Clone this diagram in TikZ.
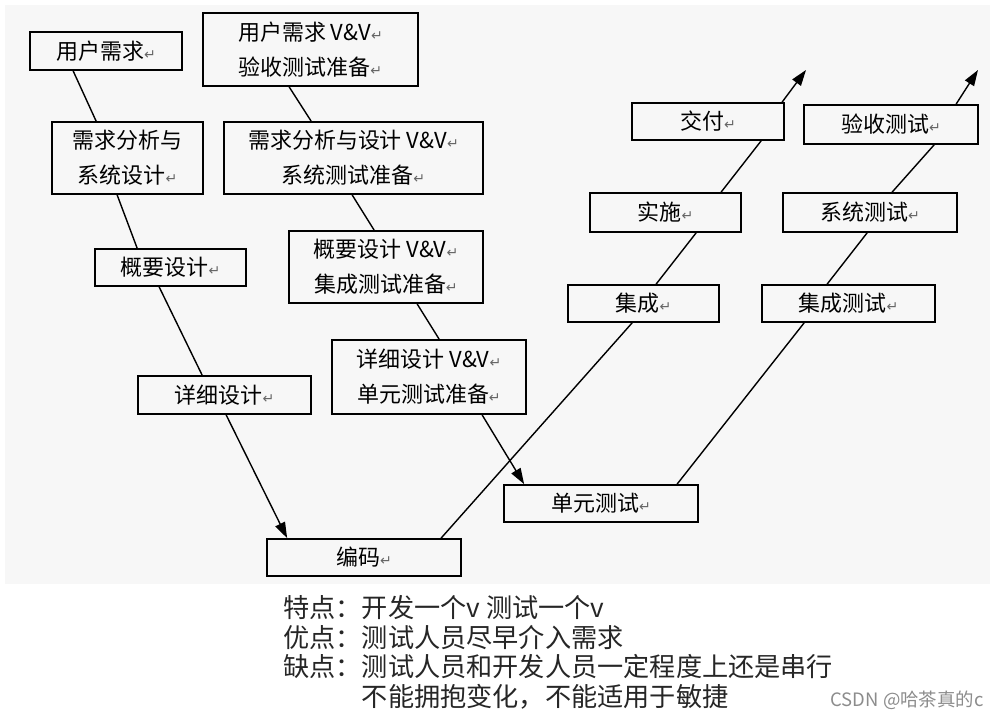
\documentclass[tikz,border=0pt]{standalone}
\usepackage{fontspec}
\setmainfont{Noto Sans CJK SC}
\newfontfamily\retfont{DejaVu Sans}
\usetikzlibrary{arrows.meta}
\definecolor{panel}{HTML}{F7F7F7}
\newcommand{\ret}{{\retfont\fontsize{8}{8}\selectfont\color{black!60}↵}}

\begin{document}
\begin{tikzpicture}[x=0.02cm, y=-0.02cm,
    box/.style={draw, line width=1pt, inner sep=0pt, align=center,
                font=\fontsize{12.5}{20}\selectfont},
    link/.style={line width=0.8pt},
    tip/.style={link, -{Triangle[length=9pt,width=6pt]}}]
  \useasboundingbox (0,0) rectangle (998,719);
  \fill[panel] (5,5) rectangle (990,584);

  % development side
  \node (yhxq) at (106,51)    [box, minimum width=3.04cm, minimum height=0.76cm] {用户需求\ret};
  \node (xqfx) at (127.5,158) [box, minimum width=3.02cm, minimum height=1.44cm] {需求分析与\\系统设计\ret};
  \node (gysj) at (170.5,267.5) [box, minimum width=3.02cm, minimum height=0.74cm] {概要设计\ret};
  \node (xxsj) at (224.5,395) [box, minimum width=3.46cm, minimum height=0.76cm] {详细设计\ret};
  \node (bm)   at (364,557.5) [box, minimum width=3.88cm, minimum height=0.74cm] {编码\ret};

  % V&V preparation
  \node (vv1) at (310.5,49.5) [box, minimum width=4.30cm, minimum height=1.46cm] {用户需求 V\&V\ret\\验收测试准备\ret};
  \node (vv2) at (353.5,158)  [box, minimum width=5.18cm, minimum height=1.44cm] {需求分析与设计 V\&V\ret\\系统测试准备\ret};
  \node (vv3) at (386,267)    [box, minimum width=3.88cm, minimum height=1.44cm] {概要设计 V\&V\ret\\集成测试准备\ret};
  \node (vv4) at (429,377)    [box, minimum width=3.88cm, minimum height=1.48cm] {详细设计 V\&V\ret\\单元测试准备\ret};

  % delivery side
  \node (jc) at (643.5,303.5) [box, minimum width=3.02cm, minimum height=0.74cm] {集成\ret};
  \node (ss) at (665.5,212.5) [box, minimum width=3.02cm, minimum height=0.78cm] {实施\ret};
  \node (jf) at (708,121.5)   [box, minimum width=3.04cm, minimum height=0.74cm] {交付\ret};

  % testing side
  \node (dycs) at (601,503.5)   [box, minimum width=3.88cm, minimum height=0.74cm] {单元测试\ret};
  \node (jccs) at (848.5,303.5) [box, minimum width=3.46cm, minimum height=0.74cm] {集成测试\ret};
  \node (xtcs) at (870,212.5)   [box, minimum width=3.48cm, minimum height=0.78cm] {系统测试\ret};
  \node (yscs) at (891,124.5)   [box, minimum width=3.48cm, minimum height=0.78cm] {验收测试\ret};

  \coordinate (jfend) at (806,70);
  \coordinate (ysend) at (978,70);

  \draw[link] ([xshift=0.88cm]yhxq.south west) -- ([xshift=0.90cm]xqfx.north west);
  \draw[link] ([xshift=1.32cm]xqfx.south west) -- ([xshift=0.86cm]gysj.north west);
  \draw[link] ([xshift=1.30cm]gysj.south west) -- ([xshift=1.30cm]xxsj.north west);
  \draw[tip]  ([xshift=1.78cm]xxsj.south west) -- ([xshift=0.42cm]bm.north west);

  \draw[link] ([xshift=1.74cm]vv1.south west) -- ([xshift=1.76cm]vv2.north west);
  \draw[link] ([xshift=2.58cm]vv2.south west) -- ([xshift=1.72cm]vv3.north west);
  \draw[link] ([xshift=2.58cm]vv3.south west) -- ([xshift=2.16cm]vv4.north west);
  \draw[tip]  ([xshift=3.02cm]vv4.south west) -- ([xshift=0.42cm]dycs.north west);

  \draw[link] ([xshift=3.50cm]bm.north west) -- ([xshift=1.30cm]jc.south west);
  \draw[link] ([xshift=1.78cm]jc.north west) -- ([xshift=2.14cm]ss.south west);
  \draw[link] ([xshift=2.64cm]ss.north west) -- ([xshift=2.60cm]jf.south west);
  \draw[tip]  ([xshift=3.02cm]jf.north west) -- (jfend);

  \draw[link] ([xshift=3.48cm]dycs.north west) -- ([xshift=0.86cm]jccs.south west);
  \draw[link] ([xshift=1.32cm]jccs.north west) -- ([xshift=1.70cm]xtcs.south west);
  \draw[link] ([xshift=2.20cm]xtcs.north west) -- ([xshift=2.62cm]yscs.south west);
  \draw[tip]  ([xshift=3.06cm]yscs.north west) -- (ysend);

  % notes under the picture
  \node (notes) at (283,595) [anchor=north west, inner sep=0pt, align=left,
      font=\fontsize{14.9}{16.85}\selectfont, text=black!85]
      {特点：开发一个v 测试一个v\\
       优点：测试人员尽早介入需求\\
       缺点：测试人员和开发人员一定程度上还是串行\\
       \phantom{缺点：}不能拥抱变化，不能适用于敏捷};
  \node (mark) at (984,700) [anchor=east, inner sep=0pt,
      font=\fontsize{10.5}{12}\selectfont, text=black!45] {CSDN @哈茶真的c};
\end{tikzpicture}
\end{document}
